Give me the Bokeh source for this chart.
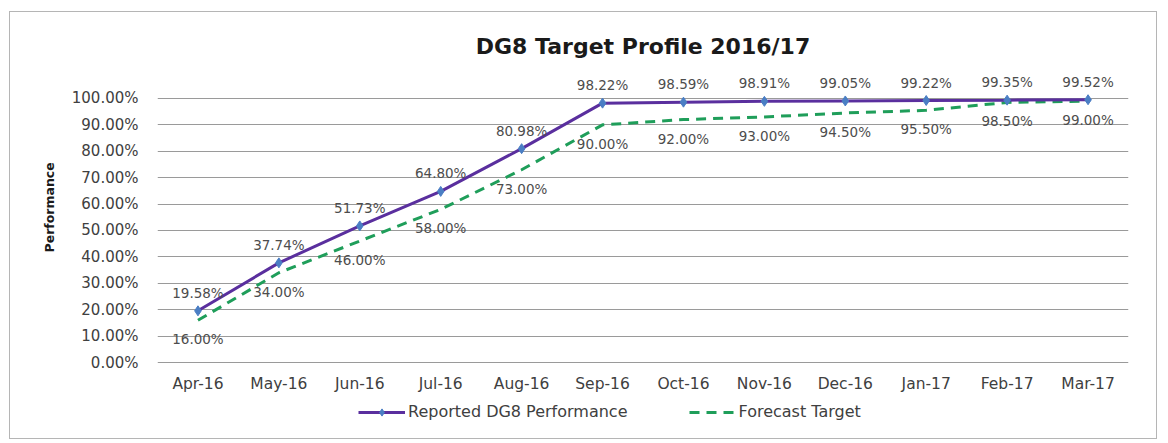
from bokeh.plotting import figure
from bokeh.models import FactorRange, FixedTicker, Legend, LegendItem, ColumnDataSource, Title
from bokeh.core.properties import value
from bokeh.embed import file_html
from bokeh.resources import INLINE

months = ["Apr-16", "May-16", "Jun-16", "Jul-16", "Aug-16", "Sep-16",
          "Oct-16", "Nov-16", "Dec-16", "Jan-17", "Feb-17", "Mar-17"]
reported = [19.58, 37.74, 51.73, 64.80, 80.98, 98.22, 98.59, 98.91, 99.05, 99.22, 99.35, 99.52]
forecast = [16.00, 34.00, 46.00, 58.00, 73.00, 90.00, 92.00, 93.00, 94.50, 95.50, 98.50, 99.00]
y_ticks = [0, 10, 20, 30, 40, 50, 60, 70, 80, 90, 100]

FONT = "DejaVu Sans"

p = figure(x_range=FactorRange(*months, range_padding=0), y_range=(-26.5, 112.1),
           width=1148, height=428, output_backend="svg", toolbar_location=None,
           min_border_left=147, min_border_right=30, min_border_top=54, min_border_bottom=8,
           title="DG8 Target Profile 2016/17")
p.styles = {"border": "1px solid #b5b5b5", "margin-left": "9px", "margin-top": "11px"}
p.outline_line_color = None
p.background_fill_color = "white"
p.border_fill_color = "white"

p.title.align = "center"
p.title.text_font = FONT
p.title.text_font_size = "22px"
p.title.text_font_style = "bold"
p.title.text_color = "#1a1a1a"
p.title.standoff = 16

p.xgrid.grid_line_color = None
p.ygrid.grid_line_color = "#9a9a9a"
p.ygrid.grid_line_width = 1

p.xaxis.visible = False
p.yaxis.ticker = FixedTicker(ticks=y_ticks)
p.yaxis.major_label_overrides = {t: f"{t:.2f}%" for t in y_ticks}
p.yaxis.axis_line_color = None
p.yaxis.major_tick_line_color = None
p.yaxis.minor_tick_line_color = None
p.yaxis.major_label_text_font = FONT
p.yaxis.major_label_text_color = "#404040"
p.yaxis.major_label_text_font_size = "15px"
p.yaxis.major_label_standoff = 13

ytitle = Title(text="Performance", align="left", offset=180, standoff=24,
               text_font=FONT, text_font_size="12.5px", text_font_style="bold",
               text_color="#1a1a1a")
p.add_layout(ytitle, "left")

src = ColumnDataSource(dict(
    x=months, rep=reported, fc=forecast,
    rep_lbl=[f"{v:.2f}%" for v in reported],
    fc_lbl=[f"{v:.2f}%" for v in forecast],
))

fc_line = p.line("x", "fc", source=src, line_color="#1f9e5a", line_width=3, line_dash="10 7")
rep_line = p.line("x", "rep", source=src, line_color="#5a2f9e", line_width=3)
rep_pts = p.scatter("x", "rep", source=src, marker="diamond", size=10,
                    fill_color="#4a7ec4", line_color="#4a7ec4")

p.text("x", "rep", text="rep_lbl", source=src, y_offset=-18, text_align="center",
       text_baseline="middle", text_font=value(FONT), text_font_size="13.5px",
       text_color="#4d4d4d")
p.text("x", "fc", text="fc_lbl", source=src, y_offset=19, text_align="center",
       text_baseline="middle", text_font=value(FONT), text_font_size="13.5px",
       text_color="#4d4d4d")

# category (x-axis) labels, placed through the categorical scale
p.text("x", -7.95, text="x", source=src, text_align="center", text_baseline="middle",
       text_font=value(FONT), text_font_size="15.5px", text_color="#404040")

legend = Legend(items=[
    LegendItem(label="Reported DG8 Performance", renderers=[rep_line, rep_pts]),
    LegendItem(label="Forecast Target", renderers=[fc_line]),
], location=(201, 11), orientation="horizontal")
legend.padding = 0
legend.margin = 0
legend.border_line_color = None
legend.background_fill_alpha = 0
legend.label_text_font = FONT
legend.label_text_font_size = "16px"
legend.label_text_color = "#404040"
legend.glyph_width = 47
legend.glyph_height = 18
legend.label_height = 18
legend.label_standoff = 3
legend.spacing = 61
p.add_layout(legend, "center")

open("out.html", "w").write(file_html(p, INLINE))
